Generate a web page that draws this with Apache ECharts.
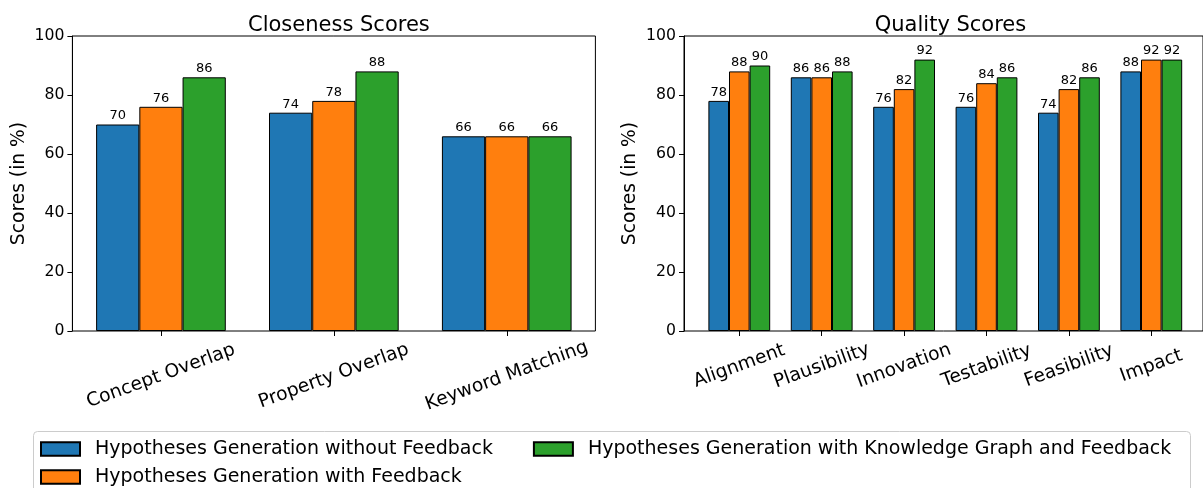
<!DOCTYPE html>
<html>
<head>
<meta charset="utf-8">
<script src="https://cdn.jsdelivr.net/npm/echarts@6/dist/echarts.min.js"></script>
<style>
html,body{margin:0;padding:0;background:#fff;}
#chart{width:1203px;height:488px;}
</style>
</head>
<body>
<div id="chart"></div>
<script>
// ---- data ----
const closenessCategories = ['Concept Overlap', 'Property Overlap', 'Keyword Matching'];
const closenessNoFeedback = [70, 74, 66];
const closenessFeedback = [76, 78, 66];
const closenessKG = [86, 88, 66];

const qualityCategories = ['Alignment', 'Plausibility', 'Innovation', 'Testability', 'Feasibility', 'Impact'];
const qualityNoFeedback = [78, 86, 76, 76, 74, 88];
const qualityFeedback = [88, 86, 82, 84, 82, 92];
const qualityKG = [90, 88, 92, 86, 86, 92];

const seriesNames = [
  'Hypotheses Generation without Feedback',
  'Hypotheses Generation with Feedback',
  'Hypotheses Generation with Knowledge Graph and Feedback'
];
const colors = ['#1f77b4', '#ff7f0e', '#2ca02c'];
const titles = ['Closeness Scores', 'Quality Scores'];
const yAxisName = 'Scores (in %)';

// ---- chart ----
const FONT = 'DejaVu Sans';
const chart = echarts.init(document.getElementById('chart'), null, {renderer: 'canvas'});

const frameW = 523, plotTop = 36, plotH = 295;
const grids = [
  {left: 72.4, top: plotTop, width: frameW, height: plotH, show: true, borderColor: '#000', borderWidth: 1, backgroundColor: 'transparent'},
  {left: 74.5, top: plotTop, width: 518.7, height: plotH},
  {left: 684, top: plotTop, width: frameW, height: plotH, show: true, borderColor: '#000', borderWidth: 1, backgroundColor: 'transparent'},
  {left: 698.1, top: plotTop, width: 494.4, height: plotH}
];

function frameY(gi) {
  return {
    type: 'value', gridIndex: gi, min: 0, max: 100, interval: 20,
    name: yAxisName, nameLocation: 'middle', nameGap: 44,
    nameTextStyle: {fontFamily: FONT, fontSize: 18.7, color: '#000'},
    axisLine: {show: true, lineStyle: {color: '#000', width: 1}},
    axisTick: {show: true, length: 5, lineStyle: {color: '#000'}},
    axisLabel: {fontFamily: FONT, fontSize: 15.7, color: '#000', margin: 8},
    splitLine: {show: false}
  };
}
function hiddenY(gi) {
  return {type: 'value', gridIndex: gi, min: 0, max: 100, interval: 20, show: false, splitLine: {show: false}};
}
function hiddenX(gi) {
  return {type: 'category', gridIndex: gi, data: ['a'], show: false};
}
function catX(gi, cats, margin) {
  return {
    type: 'category', gridIndex: gi, data: cats,
    axisLine: {show: false},
    axisTick: {show: true, alignWithLabel: true, length: 5, lineStyle: {color: '#000'}},
    axisLabel: {interval: 0, rotate: 20, align: 'center', verticalAlign: 'middle', margin: margin,
      fontFamily: FONT, fontSize: 18.7, color: '#000', hideOverlap: false},
    splitLine: {show: false}
  };
}

function barSeries(idx, axisIdx, data) {
  return {
    type: 'bar', name: seriesNames[idx], xAxisIndex: axisIdx, yAxisIndex: axisIdx,
    data: data, barWidth: '25%', barGap: '0%',
    itemStyle: {color: colors[idx], borderColor: '#000', borderWidth: 1},
    label: {show: true, position: 'top', distance: 2, fontFamily: FONT, fontSize: 13, color: '#000'},
    emphasis: {disabled: true},
    animation: false
  };
}

const legendText = {fontFamily: FONT, fontSize: 19, color: '#000', padding: [0, 0, 0, 10], lineHeight: 20};
const option = {
  animation: false,
  backgroundColor: '#fff',
  textStyle: {fontFamily: FONT},
  title: [
    {text: titles[0], left: 72.4 + frameW / 2, top: 10, textAlign: 'center',
      textStyle: {fontFamily: FONT, fontSize: 21, fontWeight: 'normal', color: '#000'}},
    {text: titles[1], left: 684 + frameW / 2, top: 10, textAlign: 'center',
      textStyle: {fontFamily: FONT, fontSize: 21, fontWeight: 'normal', color: '#000'}}
  ],
  grid: grids,
  xAxis: [hiddenX(0), catX(1, closenessCategories, 45), hiddenX(2), catX(3, qualityCategories, 35)],
  yAxis: [frameY(0), hiddenY(1), frameY(2), hiddenY(3)],
  legend: [
    {data: [seriesNames[0], seriesNames[2]], left: 40, top: 439, padding: 0, itemGap: 40,
      icon: 'rect', itemWidth: 39, itemHeight: 13.5, selectedMode: false, textStyle: legendText},
    {data: [seriesNames[1]], left: 40, top: 467, padding: 0,
      icon: 'rect', itemWidth: 39, itemHeight: 13.5, selectedMode: false, textStyle: legendText}
  ],
  graphic: [
    {type: 'rect', left: 33, top: 431, z: -1, silent: true,
      shape: {width: 1157, height: 80, r: 4},
      style: {fill: '#fff', stroke: '#cccccc', lineWidth: 1}}
  ],
  series: [
    barSeries(0, 1, closenessNoFeedback),
    barSeries(1, 1, closenessFeedback),
    barSeries(2, 1, closenessKG),
    barSeries(0, 3, qualityNoFeedback),
    barSeries(1, 3, qualityFeedback),
    barSeries(2, 3, qualityKG)
  ]
};
chart.setOption(option);
</script>
</body>
</html>
